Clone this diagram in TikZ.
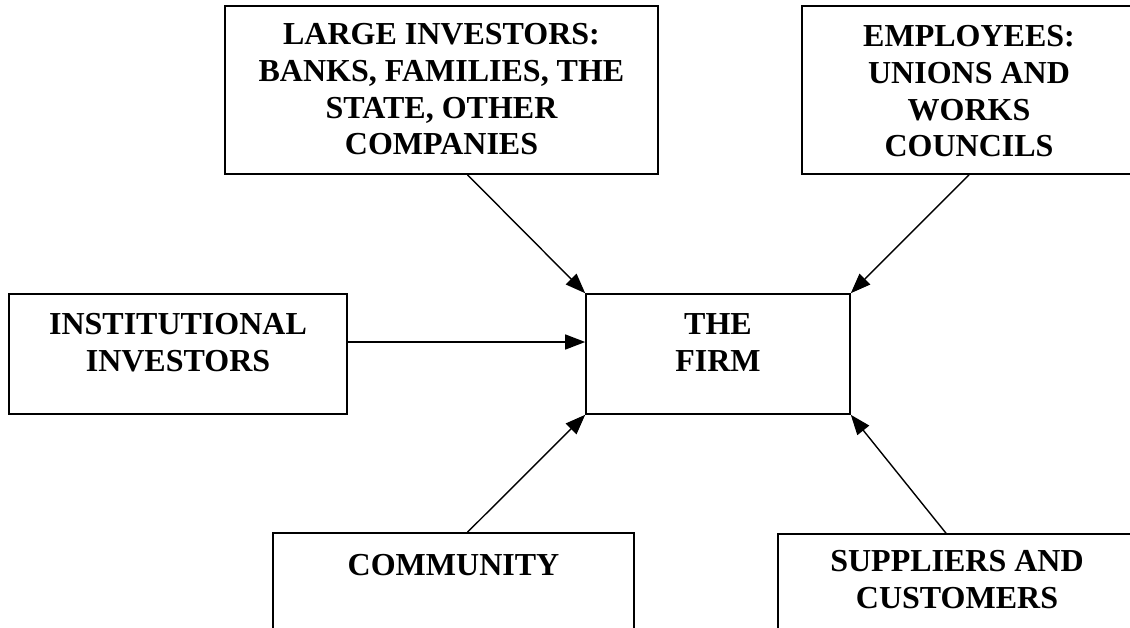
\documentclass[tikz,border=0pt]{standalone}
\usepackage{fontspec}
\setmainfont{Liberation Serif}
\usetikzlibrary{arrows.meta}

\tikzset{
	box/.style={rectangle, draw=black, line width=0.8pt},
	lbl/.style={inner sep=0pt, anchor=north, align=center, font=\fontsize{16}{18.4}\selectfont\bfseries},
	arr/.style={-{Triangle[length=10pt, width=7.5pt]}, line width=0.7pt}
}

\begin{document}
\begin{tikzpicture}[x=0.5pt, y=-0.5pt]

\useasboundingbox (0, 0) rectangle (1130, 627);

\node (large) at (441.5, 90) [box, minimum width=216.5pt, minimum height=84pt] {};
\node (large-t) at (441.5, 23) [lbl] {LARGE INVESTORS:\\BANKS, FAMILIES, THE\\STATE, OTHER\\COMPANIES};

\node (emp) at (969, 90) [box, minimum width=167pt, minimum height=84pt] {};
\node (emp-t) at (969, 25) [lbl] {EMPLOYEES:\\UNIONS AND\\WORKS\\COUNCILS};

\node (inst) at (178, 354) [box, minimum width=169pt, minimum height=60pt] {};
\node (inst-t) at (178, 313) [lbl] {INSTITUTIONAL\\INVESTORS};

\node (firm) at (718, 354) [box, minimum width=132pt, minimum height=60pt] {};
\node (firm-t) at (718, 313) [lbl] {THE\\FIRM};

\node (comm) at (453.5, 606.5) [box, minimum width=180.5pt, minimum height=73.5pt] {};
\node (comm-t) at (453.5, 554) [lbl] {COMMUNITY};

\node (supp) at (957, 607) [box, minimum width=179pt, minimum height=73pt] {};
\node (supp-t) at (957, 550) [lbl] {SUPPLIERS AND\\CUSTOMERS};

\draw[arr] ([xshift=13pt]large.south) -- (firm.north west);
\draw[arr] (emp.south) -- (firm.north east);
\draw[arr] ([yshift=6pt]inst.east) -- ([yshift=6pt]firm.west);
\draw[arr] ([xshift=7pt]comm.north) -- (firm.south west);
\draw[arr] ([xshift=-5.5pt]supp.north) -- (firm.south east);

\end{tikzpicture}
\end{document}
